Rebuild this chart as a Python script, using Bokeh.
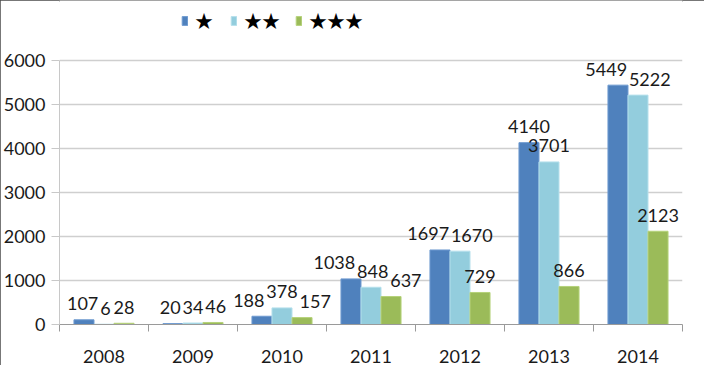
from bokeh.plotting import figure
from bokeh.models import (ColumnDataSource, FixedTicker, Legend, LegendItem, Range1d)
from bokeh.core.properties import value
from bokeh.embed import file_html
from bokeh.resources import INLINE

years = ["2008", "2009", "2010", "2011", "2012", "2013", "2014"]
one_star = [107, 20, 188, 1038, 1697, 4140, 5449]
two_star = [6, 34, 378, 848, 1670, 3701, 5222]
three_star = [28, 46, 157, 637, 729, 866, 2123]
series_names = ["★", "★★", "★★★"]
y_ticks = [0, 1000, 2000, 3000, 4000, 5000, 6000]

colors = ["#4F81BD", "#93CDDD", "#9BBB59"]
edges = ["#6E9AD0", "#B5E0EC", "#B5D27A"]
FONT = "Lato"

W, H = 704, 365
ML, MR, MT, MB = 58, 22, 0, 38
PLOT_PX = 266           # pixel height of the 0..6000 value area
YMAX = 6000
YTOP = YMAX * (H - MT - MB) / PLOT_PX   # extra room above for the legend

p = figure(width=W, height=H, output_backend="svg", toolbar_location=None,
           x_range=Range1d(0, len(years)), y_range=Range1d(0, YTOP),
           min_border_left=ML, min_border_right=MR, min_border_top=MT, min_border_bottom=MB,
           outline_line_color=None)
p.styles = {"box-shadow": "inset 0 0 0 2px #4a4a4a"}

centers = [i + 0.5 for i in range(len(years))]
bw = 0.225
offsets = [-bw, 0.0, bw]
all_vals = [one_star, two_star, three_star]

# simple label de-overlap (screen pixels), like a spreadsheet's label placement
fw = (W - ML - MR) / len(years)
fh = PLOT_PX / YMAX
char_w, lab_h, gap, lift = 10.4, 15, 2, 16
dx = [[0.0] * len(years) for _ in all_vals]
for j in range(len(years)):
    cx = [(centers[j] + off) * fw for off in offsets]
    ty = [s[j] * fh + lift for s in all_vals]
    w = [len(str(s[j])) * char_w for s in all_vals]
    sh = [0.0, 0.0, 0.0]
    for _ in range(10):
        for k in range(1, 3):
            a, b = k - 1, k
            if abs(ty[a] - ty[b]) < lab_h:
                ov = (cx[a] + sh[a] + w[a] / 2 + gap) - (cx[b] + sh[b] - w[b] / 2)
                if ov > 0:
                    sh[a] -= ov / 2
                    sh[b] += ov / 2
    for i in range(3):
        dx[i][j] = sh[i]

renderers = []
for vals, off, col, ec, sdx in zip(all_vals, offsets, colors, edges, dx):
    src = ColumnDataSource(dict(x=[c + off for c in centers], top=vals,
                                lab=[str(v) for v in vals], dx=sdx))
    r = p.vbar(x="x", top="top", width=bw, bottom=0, source=src,
               fill_color=col, line_color=ec, line_width=1)
    renderers.append(r)
    p.text(x="x", y="top", text="lab", source=src, text_align="center",
           text_baseline="middle", x_offset="dx", y_offset=-lift, text_font=value(FONT),
           text_font_size="18px", text_color="#1a1a1a")

# axes
p.xaxis.ticker = FixedTicker(ticks=centers, minor_ticks=list(range(len(years) + 1)))
p.xaxis.major_label_overrides = {c: y for c, y in zip(centers, years)}
p.xaxis.major_tick_out = 0
p.xaxis.major_tick_in = 0
p.xaxis.minor_tick_out = 7
p.xaxis.minor_tick_in = 0
p.xaxis.minor_tick_line_color = "#9a9a9a"
p.xaxis.axis_line_color = "#9a9a9a"
p.xaxis.major_label_standoff = 18
p.xaxis.major_label_text_font = FONT
p.xaxis.major_label_text_font_size = "18px"
p.xaxis.major_label_text_color = "#1a1a1a"

p.yaxis.ticker = FixedTicker(ticks=y_ticks)
p.yaxis.bounds = (0, YMAX)
p.yaxis.major_tick_out = 8
p.yaxis.major_tick_in = 0
p.yaxis.minor_tick_out = 0
p.yaxis.minor_tick_in = 0
p.yaxis.major_tick_line_color = "#c8c8c8"
p.yaxis.axis_line_color = "#c8c8c8"
p.yaxis.major_label_standoff = 6
p.yaxis.major_label_text_font = FONT
p.yaxis.major_label_text_font_size = "18px"
p.yaxis.major_label_text_color = "#1a1a1a"

p.xgrid.grid_line_color = None
p.ygrid.grid_line_color = "#cfcfcf"
p.ygrid.grid_line_width = 1.5

legend = Legend(items=[LegendItem(label=n, renderers=[r]) for n, r in zip(series_names, renderers)],
                orientation="horizontal", location=(122, 291),
                glyph_width=7, glyph_height=11, label_height=26, label_standoff=7,
                spacing=15, padding=0, margin=0, border_line_color=None,
                background_fill_alpha=0, label_text_font="Noto Sans CJK SC",
                label_text_font_size="18px", label_text_color="#000000")
p.add_layout(legend, "center")

open("out.html", "w").write(file_html(p, INLINE))
